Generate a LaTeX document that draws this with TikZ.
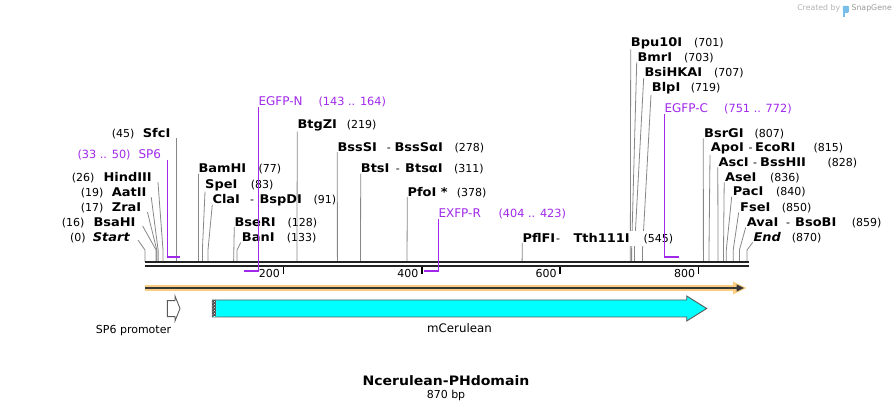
\documentclass[tikz,border=0pt]{standalone}
\usepackage{fontspec}
\setmainfont{DejaVu Sans}[BoldFont={DejaVu Sans Bold}, ItalicFont={DejaVu Sans Oblique}, BoldItalicFont={DejaVu Sans Bold Oblique}, BoldFeatures={FakeStretch=1.08}, BoldItalicFeatures={FakeStretch=1.08}]
\usetikzlibrary{arrows.meta,calc,patterns}
\definecolor{primc}{RGB}{160,40,235}
\definecolor{sitec}{RGB}{135,135,135}
\definecolor{linec}{RGB}{34,34,34}
\definecolor{orangec}{RGB}{250,205,130}
\definecolor{featc}{RGB}{0,255,255}
\definecolor{featd}{RGB}{90,90,90}
\definecolor{logoc}{RGB}{120,190,235}
\begin{document}
\begin{tikzpicture}[x=1pt,y=-1pt,
  nm/.style={font=\fontsize{12}{14}\selectfont\bfseries, inner sep=0pt, anchor=base west},
  nmi/.style={font=\fontsize{12}{14}\selectfont\bfseries\itshape, inner sep=0pt, anchor=base west},
  num/.style={font=\fontsize{11}{13}\selectfont, inner sep=0pt, anchor=base west},
  dsh/.style={font=\fontsize{11}{13}\selectfont, inner sep=0pt, anchor=base west},
  prm/.style={font=\fontsize{12}{14}\selectfont, text=primc, inner sep=0pt, anchor=base west},
  prr/.style={font=\fontsize{11.3}{13}\selectfont, text=primc, inner sep=0pt, anchor=base west},
  site/.style={draw=sitec, line width=0.8pt},
  pline/.style={draw=primc, line width=1.3pt},
  pbar/.style={draw=primc, line width=2pt},
  tickm/.style={draw=black, line width=1.5pt},
  ticklab/.style={font=\fontsize{11}{13}\selectfont, inner sep=0pt, anchor=base east},
  featlab/.style={font=\fontsize{11}{13}\selectfont, inner sep=0pt, anchor=base},
]
\useasboundingbox (0,0) rectangle (894,411);

% ---------------- left group ----------------
\node[num] (n0) at (70,241.1) {(0)};
\node[nmi] (start) at (92.7,241.1) {Start};
\node[num] (n16) at (61.7,226.1) {(16)};
\node[nm] (bsahi) at (93.3,226.1) {BsaHI};
\node[num] (n17) at (80.7,211.1) {(17)};
\node[nm] (zrai) at (111.7,211.1) {ZraI};
\node[num] (n19) at (80.7,196.1) {(19)};
\node[nm] (aatii) at (111.7,196.1) {AatII};
\node[num] (n26) at (71.7,181.1) {(26)};
\node[nm] (hindiii) at (103.3,181.1) {HindIII};
\node[prr] (sp6r) at (77.3,158.4) {(33 .. 50)};
\node[prm] (sp6) at (138.3,158.4) {SP6};
\node[num] (n45) at (111.7,137.1) {(45)};
\node[nm] (sfci) at (142.7,137.1) {SfcI};

\draw[site] ($(start.base east)+(8,-1)$) -- (145,250) -- (145,262);
\draw[site] ($(bsahi.base east)+(7,0)$) -- (156.1,250) -- (156.1,262);
\draw[site] ($(zrai.base east)+(6,1)$) -- (156.8,250) -- (156.8,262);
\draw[site] ($(aatii.base east)+(4.5,1)$) -- (158.1,250) -- (158.1,262);
\draw[site] ($(hindiii.base east)+(6,1)$) -- (163,250) -- (163,262);
\draw[site] (sfci.base east -| 176.1,0) ++(0,1) -- (176.1,262);

% ---------------- middle group ----------------
\node[nm] (bamhi) at (198.3,172.7) {BamHI};
\node[num] (n77) at (258.3,172.7) {(77)};
\node[nm] (spei) at (205,188.4) {SpeI};
\node[num] (n83) at (250.7,188.4) {(83)};
\node[nm] (clai) at (212.3,203.7) {ClaI};
\node[dsh] (d91) at (250,203.7) {-};
\node[nm] (bspdi) at (259.3,203.7) {BspDI};
\node[num] (n91) at (313.3,203.7) {(91)};
\node[nm] (bseri) at (234.3,226.1) {BseRI};
\node[num] (n128) at (287.3,226.1) {(128)};
\node[nm] (bani) at (241.7,241.7) {BanI};
\node[num] (n133) at (286.7,241.7) {(133)};
\node[nm] (btgzi) at (297.3,128.4) {BtgZI};
\node[num] (n219) at (346.7,128.4) {(219)};
\node[nm] (bsssi) at (337.3,151.1) {BssSI};
\node[dsh] (d278) at (386.7,151.1) {-};
\node[nm] (bsssai) at (394.3,151.1) {BssSαI};
\node[num] (n278) at (454.3,151.1) {(278)};
\node[nm] (btsi) at (360.7,172.7) {BtsI};
\node[dsh] (d311) at (395.7,172.7) {-};
\node[nm] (btsai) at (405,172.7) {BtsαI};
\node[num] (n311) at (454,172.7) {(311)};
\node[nm] (pfoi) at (407.3,196.1) {PfoI *};
\node[num] (n378) at (456.7,196.1) {(378)};

\draw[site] (bamhi.south west) ++(0,0.5) -- (198.3,262);
\draw[site] (spei.south west) ++(0,0.5) -- (202.4,250) -- (202.4,262);
\draw[site] (clai.south west) ++(0,0.5) -- (208,250) -- (208,262);
\draw[site] (bseri.south west) ++(0,0.5) -- (233.6,262);
\draw[site] (bani.south west) ++(-1,0.5) -- (237,250) -- (237,262);
\draw[site] (btgzi.south west) ++(0,0.5) -- (296.9,262);
\draw[site] (bsssi.south west) ++(0,0.5) -- (337.4,262);
\draw[site] (btsi.south west) ++(0,0.5) -- (360.5,262);
\draw[site] (pfoi.south west) ++(0,0.5) -- (407,262);

% ---------------- right group ----------------
\node[nm] (bpu) at (630.7,46.1) {Bpu10I};
\node[num] (n701) at (694,46.1) {(701)};
\node[nm] (bmri) at (637.3,61.1) {BmrI};
\node[num] (n703) at (684,61.1) {(703)};
\node[nm] (bsihkai) at (644.3,76.7) {BsiHKAI};
\node[num] (n707) at (714,76.7) {(707)};
\node[nm] (blpi) at (651.7,91.1) {BlpI};
\node[num] (n719) at (690.7,91.1) {(719)};
\node[nm] (bsrgi) at (704,137.1) {BsrGI};
\node[num] (n807) at (754.3,137.1) {(807)};
\node[nm] (apoi) at (710.7,151.1) {ApoI};
\node[dsh] (d815) at (748.3,151.1) {-};
\node[nm] (ecori) at (755,151.1) {EcoRI};
\node[num] (n815) at (813.3,151.1) {(815)};
\node[nm] (asci) at (718.3,166.1) {AscI};
\node[dsh] (d828) at (753,166.1) {-};
\node[nm] (bsshii) at (760,166.1) {BssHII};
\node[num] (n828) at (827.3,166.1) {(828)};
\node[nm] (asei) at (725,181.1) {AseI};
\node[num] (n836) at (770,181.1) {(836)};
\node[nm] (paci) at (732.7,195.4) {PacI};
\node[num] (n840) at (776,195.4) {(840)};
\node[nm] (fsei) at (740,211.1) {FseI};
\node[num] (n850) at (781.7,211.1) {(850)};
\node[nm] (avai) at (746.7,226.1) {AvaI};
\node[dsh] (d859) at (786,226.1) {-};
\node[nm] (bsobi) at (795,226.1) {BsoBI};
\node[num] (n859) at (851.7,226.1) {(859)};
\node[nmi] (endn) at (753.3,241.1) {End};
\node[num] (n870) at (791.7,241.1) {(870)};

\draw[site] (bpu.south west) ++(0,0.5) -- (630.3,262);
\draw[site] (bmri.south west) ++(-0.6,1) -- (631.6,250) -- (631.6,262);
\draw[site] (bsihkai.south west) ++(-0.6,1) -- (634.4,250) -- (634.4,262);
\draw[site] (blpi.south west) ++(-0.7,1) -- (642.5,250) -- (642.5,262);
\draw[site] (bsrgi.south west) ++(-0.7,1) -- (703.4,262);
\draw[site] (apoi.south west) ++(-0.7,1) -- (709,250) -- (709,262);
\draw[site] (asci.south west) ++(-0.5,1) -- (718,250) -- (718,262);
\draw[site] (asei.south west) ++(-0.8,1) -- (723.5,250) -- (723.5,262);
\draw[site] (paci.south west) ++(-1,1) -- (726.3,250) -- (726.3,262);
\draw[site] (fsei.south west) ++(-1.3,1) -- (733.2,250) -- (733.2,262);
\draw[site] (avai.south west) ++(-1,1) -- (739.4,250) -- (739.4,262);
\draw[site] (endn.south west) ++(-0.6,1) -- (747,250) -- (747,262);

% PflFI label with white background
\fill[white] (521.5,231.5) rectangle (675,246.5);
\node[nm] (pflfi) at (522.3,242.2) {PflFI};
\node[dsh] (d545) at (556,242.2) {-};
\node[nm] (tth) at (573.3,242.2) {Tth111I};
\node[num] (n545) at (643.3,242.2) {(545)};
\draw[site] (pflfi.south west) ++(0,0.5) -- (522.1,262);

% ---------------- primers (names) ----------------
\node[prm] (egfpn) at (258.3,105.4) {EGFP-N};
\node[prr] (egfpnr) at (318.3,105.4) {(143 .. 164)};
\node[prm] (exfpr) at (438.3,217.7) {EXFP-R};
\node[prr] (exfprr) at (498.3,217.7) {(404 .. 423)};
\node[prm] (egfpc) at (664.3,112.7) {EGFP-C};
\node[prr] (egfpcr) at (724,112.7) {(751 .. 772)};

% ---------------- main sequence line ----------------
\draw[linec, line width=2.3pt] (145,262.2) -- (749,262.2);
\draw[linec, line width=2.1pt] (145,266.3) -- (749,266.3);

% primer markers
\draw[pline] (sp6.base east -| 167.8,0) ++(0,1.5) -- (167.8,257.5);
\draw[pbar] (167.2,257.5) -- (179.6,257.5);
\draw[pline] (egfpn.south west) ++(0.2,1) -- (258.5,270.8);
\draw[pbar] (244,270.8) -- (259.1,270.8);
\draw[pline] (exfpr.south west) ++(0,1) -- (438.3,270.8);
\draw[pbar] (424.3,270.8) -- (438.9,270.8);
\draw[pline] (egfpc.south west) ++(0.4,1) -- (664.7,257.5);
\draw[pbar] (664.1,257.5) -- (679.2,257.5);

% ticks
\foreach \p/\lab in {283.4/200, 421.8/400, 560.2/600, 698.6/800}{
  \draw[tickm] (\p,267.2) -- (\p,274.5);
  \node[ticklab] (t\lab) at (\p-3.3,277.8) {\lab};
}

% orange direction line
\draw[orangec, line width=6.6pt] (145,288) -- (738,288);
\fill[orangec] (733,281.5) -- (746.5,288) -- (733,294.5) -- cycle;
\draw[linec!90, line width=2.3pt] (145,288) -- (738,288);
\fill[linec!90] (736.5,284.3) -- (744,288) -- (736.5,291.7) -- cycle;

% features
\draw[featd, fill=white, line width=0.9pt] (167.3,300.7) -- (175,300.7) -- (175,296) -- (180,308.5)
  -- (175,321) -- (175,316.7) -- (167.3,316.7) -- cycle;
\node[featlab] (sp6p) at (133.5,334) {SP6 promoter};

\draw[featd, fill=featc, line width=0.9pt] (212.3,300) -- (686.7,300) -- (686.7,296) -- (706.7,308.5)
  -- (686.7,321) -- (686.7,317) -- (212.3,317) -- cycle;
\fill[black!70] (212.7,300.5) rectangle (216.3,316.5);
\fill[pattern=crosshatch dots, pattern color=white] (212.7,300.5) rectangle (216.3,316.5);
\node[featlab, font=\fontsize{11.8}{13}\selectfont] (mcer) at (459.5,333) {mCerulean};

% title
\node[font=\fontsize{13}{15}\selectfont\bfseries, inner sep=0pt, anchor=base] (title) at (446,385) {Ncerulean-PHdomain};
\node[font=\fontsize{11}{13}\selectfont, inner sep=0pt, anchor=base] (bp) at (446,399) {870 bp};

% watermark
\node[font=\fontsize{7.8}{9}\selectfont, text=black!40, inner sep=0pt, anchor=base east] (snapg) at (892,10.8) {SnapGene};
\fill[logoc, rounded corners=1pt] ([xshift=-8.5pt,yshift=-1pt]snapg.north west) rectangle ++(6,7);
\fill[logoc] ([xshift=-8.5pt,yshift=-1pt]snapg.north west) rectangle ++(2,11);
\node[font=\fontsize{7.8}{9}\selectfont, text=black!30, inner sep=0pt, anchor=base east] (created) at ([xshift=-11pt]snapg.base west) {Created by};
\end{tikzpicture}
\end{document}
